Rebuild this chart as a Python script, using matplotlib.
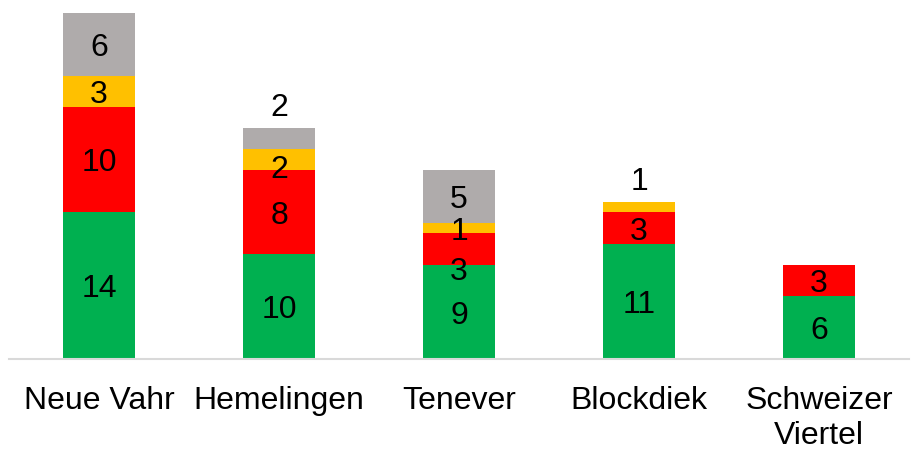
import numpy as np
from matplotlib import pyplot as plt

plt.rcParams['font.family'] = ['Liberation Sans', 'DejaVu Sans']

# ---- data ----
categories = ["Neue Vahr", "Hemelingen", "Tenever", "Blockdiek", "Schweizer\nViertel"]
green  = [14, 10, 9, 11, 6]
red    = [10, 8, 3, 3, 3]
yellow = [3, 2, 1, 1, 0]
gray   = [6, 2, 5, 0, 0]

series = [green, red, yellow, gray]
colors = ["#00B050", "#FF0000", "#FFC000", "#AFABAB"]

# label nudges (points) for crowded segments: (series index, bar index) -> dy
nudge = {(1, 2): -14, (2, 1): -5}
above = {(3, 1), (2, 3)}   # labels put above the bar top

fig = plt.figure(figsize=(9.21, 4.52), dpi=100)
ax = fig.add_axes([9/921, 92/452, 900/921, 357/452])

x = np.arange(len(categories))
bottom = np.zeros(len(categories))
for si, (vals, col) in enumerate(zip(series, colors)):
    vals = np.array(vals, dtype=float)
    ax.bar(x, vals, width=0.4, bottom=bottom, color=col, edgecolor='none')
    for bi, v in enumerate(vals):
        if v == 0:
            continue
        if (si, bi) in above:
            top = sum(s[bi] for s in series)
            ax.annotate(f"{int(v)}", (x[bi], top), xytext=(0, 4), textcoords='offset points',
                        ha='center', va='bottom', fontsize=23)
        else:
            ax.annotate(f"{int(v)}", (x[bi], bottom[bi] + v / 2), xytext=(0, -2 + nudge.get((si, bi), 0)),
                        textcoords='offset points', ha='center', va='center', fontsize=23)
    bottom += vals

ax.set_xlim(-0.5, len(categories) - 0.5)
ax.set_ylim(0, 34)
ax.set_xticks(x)
ax.set_xticklabels(categories, fontsize=23)
ax.tick_params(axis='x', length=0, pad=19)
ax.set_yticks([])
for side in ['top', 'right', 'left']:
    ax.spines[side].set_visible(False)
ax.spines['bottom'].set_color('#D9D9D9')
ax.spines['bottom'].set_linewidth(1.5)

fig.savefig("out.png", dpi=100)
